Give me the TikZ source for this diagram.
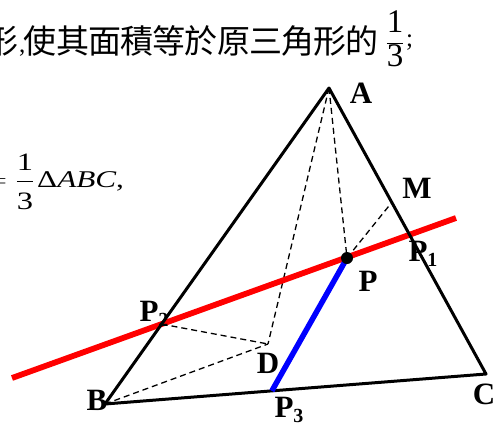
\documentclass[tikz,border=0pt]{standalone}
\usepackage{fontspec}
\setmainfont{Liberation Serif}
\newfontfamily\cjk{Noto Sans CJK TC}
\usetikzlibrary{calc}
\newcommand{\cj}[1]{\makebox[32.2pt]{#1}}
\newcommand{\subn}[1]{\raisebox{-5pt}{\fontsize{20}{20}\selectfont #1}}
\newcommand{\wide}[1]{\scalebox{1.3}[1]{#1}}
\begin{document}
\begin{tikzpicture}[x=1pt,y=-1pt,
  tri/.style={line width=3pt, line join=round, line cap=round},
  redl/.style={red, line width=5.8pt},
  bluel/.style={blue, line width=5.5pt},
  hid/.style={line width=1.3pt, dash pattern=on 6pt off 4pt},
  lab/.style={font=\fontsize{31}{31}\selectfont\bfseries, inner sep=0pt},
  txt/.style={font=\fontsize{25}{25}\selectfont, inner sep=0pt},
  ctxt/.style={font=\fontsize{33}{33}\selectfont\cjk, inner sep=0pt}]
\useasboundingbox (0,0) rectangle (504,426);
% points
\coordinate (A) at (329,88);
\coordinate (B) at (105,404);
\coordinate (C) at (486,374);
\coordinate (R1) at (12,378);
\coordinate (R2) at (456,218);
\coordinate (P) at (347,258);
\coordinate (D) at (268,344);
\coordinate (M) at ($(A)!0.4!(C)$);
\coordinate (P3) at ($(B)!0.438!(C)$);
\coordinate (P1) at (intersection of A--C and R1--R2);
\coordinate (P2) at (intersection of A--B and R1--R2);
% top text
\node[ctxt, anchor=base east] (t0) at (19,53) {形};
\node[txt, anchor=base west] (cm) at (19,52) {,};
\node[ctxt, anchor=base west] (t1) at (24,53)
  {\cj{使}\cj{其}\cj{面}\cj{積}\cj{等}\cj{於}\cj{原}\cj{三}\cj{角}\cj{形}\cj{的}};
\node[txt, anchor=base, font=\fontsize{33}{33}\selectfont] (f1) at (395,49)
  {$\displaystyle\frac{\textrm{1}}{\textrm{3}}$};
\node[txt, anchor=base west] (sc) at (406,46) {;};
% left text
\node[txt, anchor=base east] (eq) at (7,187) {$=$};
\node[txt, anchor=base] (f2) at (25,187)
  {\wide{$\displaystyle\frac{\textrm{1}}{\raisebox{-5pt}{\textrm{3}}}$}};
\node[txt, anchor=base west, font=\fontsize{24}{24}\selectfont] (t2) at (37,187)
  {\wide{Δ\textit{ABC},}};
% dashed
\draw[hid] (A) -- (D);
\draw[hid] (A) -- (P);
\draw[hid] (P) -- (M);
\draw[hid] (P2) -- (D);
\draw[hid] (B) -- (D);
% lines
\draw[redl] (R1) -- (R2);
\draw[tri] (A) -- (B) -- (C) -- cycle;
\draw[bluel] (P3) -- (P);
\fill (P) circle (6pt);
% labels
\node[lab] (lA) at (361,93) {A};
\node[lab] (lM) at (417,188) {M};
\node[lab] (lP1) at (423,254) {P\subn{1}};
\node[lab] (lP) at (368,281) {P};
\node[lab] (lP2) at (154,314) {P\subn{2}};
\node[lab] (lD) at (268,363) {D};
\node[lab] (lB) at (97,400) {B};
\node[lab] (lP3) at (289,410) {P\subn{3}};
\node[lab] (lC) at (484,394) {C};
\end{tikzpicture}
\end{document}
